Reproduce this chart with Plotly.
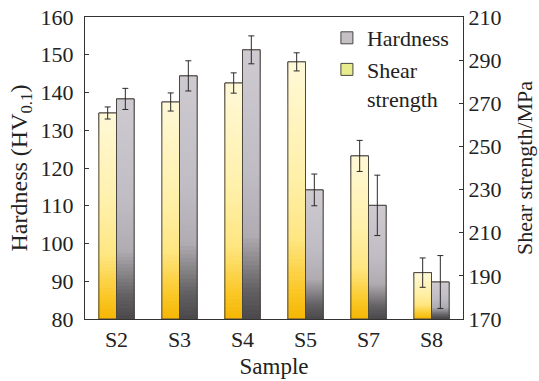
import plotly.graph_objects as go

samples = ["S2", "S3", "S4", "S5", "S7", "S8"]
hardness = [138.3, 144.4, 151.3, 114.2, 110.1, 89.8]
hardness_err = [2.8, 4.0, 3.7, 4.2, 8.0, 7.0]
shear = [265.5, 270.6, 279.4, 289.2, 245.6, 191.5]
shear_err = [2.8, 4.2, 4.7, 4.2, 7.2, 6.8]
right_tickvals = [170, 190, 210, 230, 250, 270, 290, 310]
right_ticktext = ["170", "190", "210", "230", "250", "270", "290", "210"]

FONT = "Liberation Serif"
BAR_W = 0.28
OUTLINE = "#4a4640"


def lerp(c1, c2, t):
    return tuple(c1[i] + (c2[i] - c1[i]) * t for i in range(3))


def grad_color(stops, f):
    for (f1, c1), (f2, c2) in zip(stops, stops[1:]):
        if f2 <= f <= f1:
            t = (f1 - f) / (f1 - f2) if f1 != f2 else 0
            c = lerp(c1, c2, t)
            return "rgb(%d,%d,%d)" % tuple(round(v) for v in c)
    c = stops[-1][1]
    return "rgb(%d,%d,%d)" % c


yellow_stops = [(1.0, (255, 248, 214)), (0.55, (255, 240, 168)), (0.32, (255, 230, 130)),
                (0.12, (250, 200, 40)), (0.0, (245, 180, 0))]
gray_stops = [(1.0, (206, 202, 208)), (0.55, (192, 188, 196)), (0.32, (176, 172, 178)),
              (0.12, (100, 98, 100)), (0.0, (72, 70, 72))]

fig = go.Figure()


def add_series(name, values, errs, base, yaxis, offset, stops, legend_color, rank):
    fig.add_trace(go.Bar(
        x=samples, y=[v - base for v in values], base=base, yaxis=yaxis,
        width=BAR_W, offset=offset, name=name, legendrank=rank,
        marker=dict(color=legend_color, line=dict(color=OUTLINE, width=1)),
        showlegend=True, hoverinfo="skip"))
    steps = 60
    for k in range(steps):
        f = 1.0 - k / steps
        fig.add_trace(go.Bar(
            x=samples, y=[(v - base) * f for v in values], base=base, yaxis=yaxis,
            width=BAR_W, offset=offset,
            marker=dict(color=grad_color(stops, f), line=dict(width=0)),
            showlegend=False, hoverinfo="skip"))
    fig.add_trace(go.Bar(
        x=samples, y=[v - base for v in values], base=base, yaxis=yaxis,
        width=BAR_W, offset=offset,
        marker=dict(color="rgba(0,0,0,0)", line=dict(color=OUTLINE, width=1)),
        error_y=dict(type="data", array=errs, color="#2a2a2a", thickness=1, width=3),
        showlegend=False, hoverinfo="skip"))


add_series("Shear<br>strength", shear, shear_err, 170, "y2", -BAR_W, yellow_stops,
           "rgb(232,236,140)", 2)
add_series("Hardness", hardness, hardness_err, 80, "y", 0.0, gray_stops,
           "rgb(196,192,198)", 1)

fig.update_layout(
    width=539, height=381,
    margin=dict(l=85, r=76, t=17, b=62, autoexpand=False),
    paper_bgcolor="white", plot_bgcolor="white",
    barmode="overlay",
    font=dict(family=FONT, size=22, color="#222"),
    showlegend=True,
    legend=dict(x=0.64, y=1.0, xanchor="left", yanchor="top", valign="top",
                bgcolor="rgba(0,0,0,0)", font=dict(family=FONT, size=22, color="#222"),
                tracegroupgap=0, itemwidth=30),
    xaxis=dict(
        type="category", showline=True, linecolor="#333", linewidth=1.2,
        mirror=True, ticks="", showgrid=False, automargin=False,
        title=dict(text="Sample", font=dict(size=23), standoff=7),
        tickfont=dict(size=22)),
    yaxis=dict(
        range=[80, 160], dtick=10, ticks="inside", ticklen=4, tickcolor="#333",
        showline=True, linecolor="#333", linewidth=1.2, showgrid=False,
        zeroline=False, ticklabelstandoff=6, automargin=False,
        ticklabeloverflow="allow",
        title=dict(text="Hardness (HV<sub>0.1</sub>)", font=dict(size=24), standoff=6),
        tickfont=dict(size=22)),
    yaxis2=dict(
        range=[170, 310], overlaying="y", side="right",
        tickvals=right_tickvals, ticktext=right_ticktext,
        ticks="inside", ticklen=4, tickcolor="#333",
        showline=True, linecolor="#333", linewidth=1.2, showgrid=False,
        zeroline=False, ticklabelstandoff=0, automargin=False,
        ticklabeloverflow="allow",
        title=dict(text="Shear strength/MPa", font=dict(size=22), standoff=16),
        tickfont=dict(size=22)),
)

# remove the browser's default 8px body margin so the figure sits at the page origin
fig.write_html("out.html", config={"displayModeBar": False},
               post_script="document.body.style.margin='0';")
